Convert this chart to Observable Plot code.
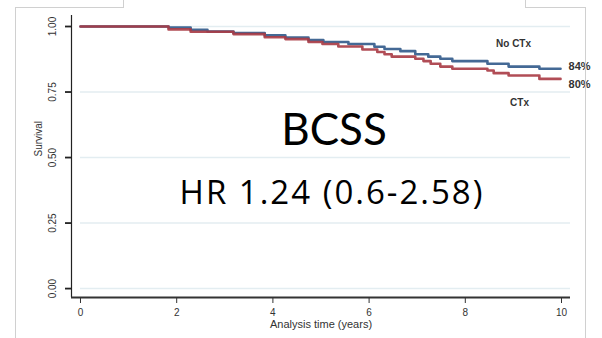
<!DOCTYPE html>
<html>
<head>
<meta charset="utf-8">
<script src="https://cdn.jsdelivr.net/npm/d3@7"></script>
<script src="https://cdn.jsdelivr.net/npm/@observablehq/plot@0.6"></script>
<style>
  html, body { margin: 0; padding: 0; background: #fff; }
  #wrap { position: relative; width: 602px; height: 338px; overflow: hidden; font-family: "Liberation Sans", Arial, sans-serif; }
  .deco { position: absolute; background: #d0d0d0; }
  .big { position: absolute; color: #000; white-space: nowrap; transform: translateX(-50%); }
</style>
</head>
<body>
<div id="wrap"></div>
<script>
// Kaplan-Meier step data (time in years, survival)
const noCtxTime = [0, 1.83, 2.29, 2.64, 3.18, 3.83, 4.26, 4.74, 5.05, 5.57, 6.11, 6.32, 6.65, 6.96, 7.23, 7.48, 7.73, 8.46, 8.90, 9.54, 9.98];
const noCtxSurv = [1.000, 0.996, 0.987, 0.981, 0.975, 0.966, 0.958, 0.948, 0.941, 0.933, 0.923, 0.914, 0.906, 0.894, 0.885, 0.877, 0.868, 0.858, 0.847, 0.839, 0.839];
const ctxTime = [0, 1.83, 2.29, 3.18, 3.83, 4.26, 4.74, 5.03, 5.36, 5.86, 6.17, 6.32, 6.47, 6.96, 7.13, 7.28, 7.48, 7.73, 8.46, 8.59, 8.90, 9.54, 9.98];
const ctxSurv = [1.000, 0.989, 0.980, 0.971, 0.959, 0.952, 0.941, 0.933, 0.924, 0.912, 0.903, 0.894, 0.885, 0.877, 0.868, 0.858, 0.847, 0.839, 0.832, 0.822, 0.813, 0.800, 0.800];
const seriesNames = ["No CTx", "CTx"];
const endLabels = ["84%", "80%"];
const xTicks = [0, 2, 4, 6, 8, 10];
const yTicks = [0, 0.25, 0.5, 0.75, 1];
const yTickLabels = ["0.00", "0.25", "0.50", "0.75", "1.00"];
const title = "BCSS";
const subtitle = "HR 1.24 (0.6-2.58)";
const xTitle = "Analysis time (years)";
const yTitle = "Survival";

const colors = {"No CTx": "#30598a", "CTx": "#a83a44"};
const data = [
  ...noCtxTime.map((t, i) => ({series: "No CTx", t, s: noCtxSurv[i]})),
  ...ctxTime.map((t, i) => ({series: "CTx", t, s: ctxSurv[i]}))
];
const lastNo = {t: noCtxTime[noCtxTime.length - 1], s: noCtxSurv[noCtxSurv.length - 1]};
const lastCt = {t: ctxTime[ctxTime.length - 1], s: ctxSurv[ctxSurv.length - 1]};

const xDom = [-0.187, 10.187];
const yDom = [-0.034, 1.042];

const chart = Plot.plot({
  width: 602,
  height: 338,
  marginLeft: 71,
  marginRight: 32,
  marginTop: 15,
  marginBottom: 41,
  style: {fontFamily: "'Liberation Sans', Arial, sans-serif", background: "transparent"},
  x: {domain: xDom, axis: null},
  y: {domain: yDom, axis: null},
  marks: [
    Plot.ruleY(yTicks, {x1: 0, x2: xDom[1], stroke: "#e3edf1", strokeWidth: 1.5}),
    Plot.line(data, {x: "t", y: "s", z: "series", stroke: d => colors[d.series], curve: "step-after", strokeWidth: 2.6, strokeOpacity: 0.9}),
    Plot.ruleX([xDom[0]], {stroke: "#222", strokeWidth: 1.2}),
    Plot.ruleY([yDom[0]], {stroke: "#333", strokeWidth: 2.2}),
    Plot.axisX({ticks: xTicks, tickSize: 6, tickPadding: 5, fontSize: 10, stroke: "#333", color: "#333", label: null}),
    Plot.axisY({ticks: yTicks, tickSize: 6, tickFormat: () => "", stroke: "#222", strokeWidth: 1.8, label: null}),
    Plot.text(yTicks, {x: xDom[0], y: d => d, text: (d, i) => yTickLabels[i], rotate: -90, dx: -19, fontSize: 10, fill: "#333"}),
    Plot.text([yTitle], {frameAnchor: "left", rotate: -90, dx: -33, fontSize: 10, fill: "#333"}),
    Plot.text([xTitle], {frameAnchor: "bottom", dy: 30, fontSize: 11, fill: "#333"}),
    Plot.text([seriesNames[0]], {x: lastNo.t, y: lastNo.s, dx: -47, dy: -25, fontSize: 10, fontWeight: "bold", fill: "#333"}),
    Plot.text([seriesNames[1]], {x: lastCt.t, y: lastCt.s, dx: -41, dy: 24, fontSize: 10, fontWeight: "bold", fill: "#333"}),
    Plot.text([endLabels[0]], {x: lastNo.t, y: lastNo.s, dx: 8, dy: -2, textAnchor: "start", fontSize: 11, fontWeight: "bold", fill: "#333"}),
    Plot.text([endLabels[1]], {x: lastCt.t, y: lastCt.s, dx: 8, dy: 6, textAnchor: "start", fontSize: 11, fontWeight: "bold", fill: "#333"})
  ]
});
const wrap = document.getElementById("wrap");
chart.style.position = "absolute";
chart.style.left = "0px";
chart.style.top = "0px";
wrap.appendChild(chart);

function deco(l, t, w, h) {
  const d = document.createElement("div");
  d.className = "deco";
  Object.assign(d.style, {left: l + "px", top: t + "px", width: w + "px", height: h + "px"});
  wrap.appendChild(d);
}
deco(15, 7, 1, 331);
deco(15, 7, 108, 1);
deco(123, 0, 1, 8);
deco(585, 7, 1, 331);
deco(525, 7, 60, 1);
deco(525, 0, 1, 8);

function big(text, cx, top, size, font, spacing) {
  const d = document.createElement("div");
  d.className = "big";
  d.textContent = text;
  Object.assign(d.style, {left: cx + "px", top: top + "px", fontSize: size + "px", lineHeight: "1", fontFamily: font, letterSpacing: spacing + "px"});
  wrap.appendChild(d);
}
big(title, 334, 106, 44, "Lato, sans-serif", 0);
big(subtitle, 332, 175, 33, "'Open Sans', sans-serif", 2);
</script>
</body>
</html>
